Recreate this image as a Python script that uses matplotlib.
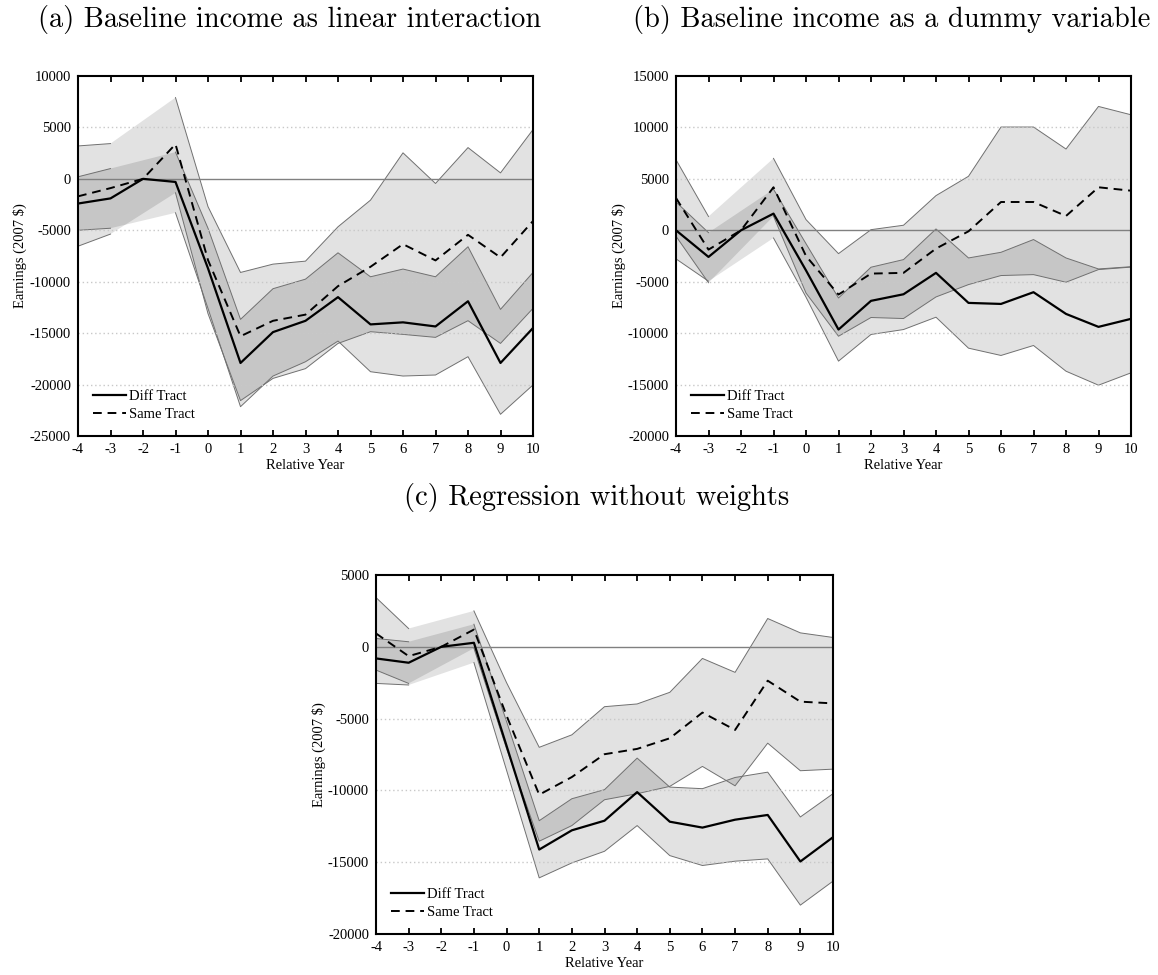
import numpy as np
import matplotlib
matplotlib.use('Agg')
import matplotlib.pyplot as plt
from matplotlib.patches import Polygon

nan = np.nan
years = list(range(-4, 11))

# Panel (a): baseline income as linear interaction
a_diff = [-2400, -1900, 0, -300, -8700, -17900, -14900, -13800, -11500, -14150, -13950, -14350, -11900, -17900, -14500]
a_diff_lo = [-5000, -4800, nan, -3300, -12600, -22150, -19170, -17780, -15770, -18750, -19170, -19070, -17290, -22890, -20040]
a_diff_hi = [200, 1000, nan, 2600, -4800, -13660, -10680, -9750, -7190, -9520, -8770, -9520, -6600, -12690, -9100]
a_same = [-1700, -900, 0, 3370, -7900, -15300, -13800, -13200, -10430, -8550, -6350, -7930, -5440, -7640, -4100]
a_same_lo = [-6550, -5370, nan, -1360, -13100, -21560, -19400, -18450, -16000, -14860, -15120, -15410, -13790, -16000, -12590]
a_same_hi = [3200, 3430, nan, 7900, -2700, -9100, -8290, -8000, -4660, -2070, 2530, -450, 3040, 580, 4790]

# Panel (b): baseline income as a dummy variable
b_diff = [0, -2590, 0, 1620, -3900, -9650, -6860, -6220, -4140, -7060, -7160, -6020, -8130, -9390, -8610]
b_diff_lo = [-2780, -4950, nan, -750, -6500, -12720, -10130, -9650, -8450, -11460, -12170, -11200, -13700, -15060, -13860]
b_diff_hi = [2750, -230, nan, 3990, -1300, -6580, -3590, -2850, 130, -2690, -2140, -900, -2690, -3760, -3540]
b_same = [3140, -1880, 0, 4180, -2500, -6250, -4210, -4140, -1780, -100, 2750, 2750, 1390, 4180, 3850]
b_same_lo = [-580, -5100, nan, 1370, -6100, -10300, -8480, -8580, -6480, -5280, -4400, -4310, -5050, -3820, -3580]
b_same_hi = [6860, 1340, nan, 6990, 1040, -2270, 60, 490, 3370, 5250, 10040, 10040, 7900, 12040, 11230]

# Panel (c): regression without weights
c_diff = [-810, -1110, 0, 280, -6900, -14120, -12780, -12110, -10120, -12180, -12590, -12040, -11710, -14950, -13260]
c_diff_lo = [-2550, -2660, nan, -1100, -8600, -16090, -15050, -14240, -12450, -14540, -15230, -14930, -14770, -17990, -16320]
c_diff_hi = [580, 350, nan, 1570, -5200, -12110, -10580, -9950, -7750, -9770, -9880, -9100, -8730, -11850, -10230]
c_same = [930, -650, 0, 1200, -4800, -10300, -9070, -7480, -7110, -6370, -4580, -5790, -2360, -3820, -3940]
c_same_lo = [-1620, -2550, nan, -100, -7100, -13540, -12450, -10650, -10230, -9720, -8330, -9680, -6710, -8630, -8520]
c_same_hi = [3430, 1270, nan, 2500, -2500, -7000, -6130, -4170, -3980, -3170, -810, -1780, 1970, 970, 650]

titles = ["(a) Baseline income as linear interaction",
          "(b) Baseline income as a dummy variable",
          "(c) Regression without weights"]
legend_labels = ["Diff Tract", "Same Tract"]
ylabel = r"Earnings (2007 \$)"
xlabel = "Relative Year"

plt.rcParams['axes.unicode_minus'] = False
SERIF = 'Liberation Serif'
LIGHT = '#e2e2e2'
DARK = '#c6c6c6'
EDGE = '#707070'

W, H = 1158, 975
fig = plt.figure(figsize=(W / 100, H / 100), dpi=100)


def ax_at(l, t, r, b):
    return fig.add_axes([l / W, 1 - b / H, (r - l) / W, (b - t) / H])


def band_poly(x, lo, hi):
    lo = np.asarray(lo, float)
    hi = np.asarray(hi, float)
    m = ~np.isnan(lo)
    xs = np.concatenate([x[m], x[m][::-1]])
    ys = np.concatenate([lo[m], hi[m][::-1]])
    return np.column_stack([xs, ys])


def draw(ax, d, dlo, dhi, s, slo, shi, ylim):
    x = np.array(years, float)
    p_same = Polygon(band_poly(x, slo, shi), closed=True, facecolor=LIGHT, edgecolor='none', zorder=1)
    p_diff = Polygon(band_poly(x, dlo, dhi), closed=True, facecolor=LIGHT, edgecolor='none', zorder=1)
    p_over = Polygon(band_poly(x, dlo, dhi), closed=True, facecolor=DARK, edgecolor='none', zorder=1.2)
    ax.add_patch(p_same)
    ax.add_patch(p_diff)
    ax.add_patch(p_over)
    p_over.set_clip_path(p_same)
    for arr in (dlo, dhi, slo, shi):
        ax.plot(x, np.asarray(arr, float), color=EDGE, lw=0.7, zorder=1.5)
    yt = np.arange(ylim[0], ylim[1] + 1, 5000)
    for yv in yt:
        if yv in (ylim[0], ylim[1]):
            continue
        if yv == 0:
            ax.axhline(0, color='#808080', lw=1.0, zorder=2)
        else:
            ax.axhline(yv, color='#c8c8c8', lw=1.0, ls=(0, (1, 2)), zorder=2)
    l1, = ax.plot(x, d, color='black', lw=1.6, zorder=3)
    l2, = ax.plot(x, s, color='black', lw=1.4, ls=(0, (4.5, 3)), zorder=3)
    ax.set_xlim(-4, 10)
    ax.set_ylim(*ylim)
    ax.set_xticks(years)
    ax.set_xticklabels([str(v) for v in years], fontfamily=SERIF, fontsize=10.5)
    ax.set_yticks(yt)
    ax.set_yticklabels([str(int(v)) for v in yt], fontfamily=SERIF, fontsize=10.5)
    ax.tick_params(axis='x', direction='in', top=True, bottom=True, length=4, width=1.3, pad=5)
    ax.tick_params(axis='y', length=0, pad=5)
    for sp in ax.spines.values():
        sp.set_linewidth(1.5)
    ax.set_ylabel(ylabel, fontfamily=SERIF, fontsize=10.5)
    ax.set_xlabel(xlabel, fontfamily=SERIF, fontsize=10.5, labelpad=2.5)
    ax.legend([l1, l2], legend_labels, loc='lower left', frameon=False,
              prop={'family': SERIF, 'size': 10.5}, handlelength=2.3,
              handletextpad=0.2, labelspacing=0.35, borderaxespad=0.6)


ax_a = ax_at(78, 76, 533, 436)
draw(ax_a, a_diff, a_diff_lo, a_diff_hi, a_same, a_same_lo, a_same_hi, (-25000, 10000))
ax_a.yaxis.set_label_coords(-0.112, 0.5)

ax_b = ax_at(676, 76, 1131, 436)
draw(ax_b, b_diff, b_diff_lo, b_diff_hi, b_same, b_same_lo, b_same_hi, (-20000, 15000))
ax_b.yaxis.set_label_coords(-0.11, 0.5)

ax_c = ax_at(376, 575, 833, 934)
draw(ax_c, c_diff, c_diff_lo, c_diff_hi, c_same, c_same_lo, c_same_hi, (-20000, 5000))
ax_c.yaxis.set_label_coords(-0.11, 0.5)

fig.text(290 / W, 1 - 19 / H, titles[0], family='cmr10', fontsize=20.5, ha='center', va='center')
fig.text(892 / W, 1 - 19 / H, titles[1], family='cmr10', fontsize=20.5, ha='center', va='center')
fig.text(597 / W, 1 - 497 / H, titles[2], family='cmr10', fontsize=20.5, ha='center', va='center')

fig.savefig('out.png', dpi=100)
